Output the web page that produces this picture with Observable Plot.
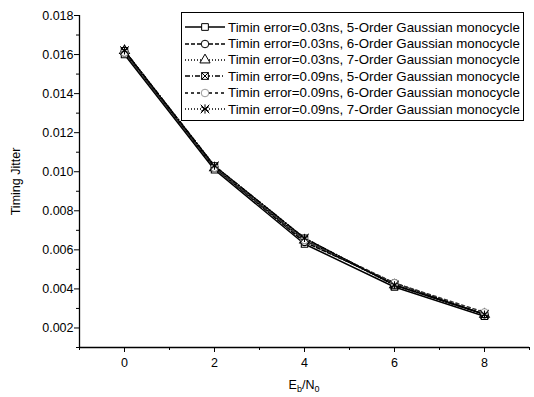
<!DOCTYPE html>
<html>
<head>
<meta charset="utf-8">
<script src="https://cdn.jsdelivr.net/npm/d3@7"></script>
<script src="https://cdn.jsdelivr.net/npm/@observablehq/plot@0.6"></script>
<style>
  html, body { margin: 0; padding: 0; background: #fff; }
  #wrap { position: relative; width: 534px; height: 397px; font-family: "Liberation Sans", Arial, sans-serif; }
  #legend { position: absolute; left: 181px; top: 12px; width: 343px; height: 109px; border: 1px solid #000; background: #fff; box-sizing: border-box; padding-top: 6px; }
  .row { height: 16.4px; display: flex; align-items: center; font-size: 13.3px; color: #000; white-space: nowrap; }
  .row svg { width: 42px; height: 16px; margin-left: 2px; margin-right: 2px; flex: none; }
</style>
</head>
<body>
<div id="wrap"></div>
<script>
// ---- data ----
const ebn0 = [0, 2, 4, 6, 8];
const seriesNames = [
  "Timin error=0.03ns, 5-Order Gaussian monocycle",
  "Timin error=0.03ns, 6-Order Gaussian monocycle",
  "Timin error=0.03ns, 7-Order Gaussian monocycle",
  "Timin error=0.09ns, 5-Order Gaussian monocycle",
  "Timin error=0.09ns, 6-Order Gaussian monocycle",
  "Timin error=0.09ns, 7-Order Gaussian monocycle"
];
const s1 = [0.0160, 0.0101, 0.0063, 0.0041, 0.0026];
const s2 = [0.0161, 0.0102, 0.0064, 0.0043, 0.0027];
const s3 = [0.0162, 0.0102, 0.0065, 0.0042, 0.0027];
const s4 = [0.0162, 0.0103, 0.0066, 0.0042, 0.0027];
const s5 = [0.0161, 0.0102, 0.0065, 0.0043, 0.0028];
const s6 = [0.0162, 0.0103, 0.0066, 0.0042, 0.0027];
const yMajor = [0.002, 0.004, 0.006, 0.008, 0.010, 0.012, 0.014, 0.016, 0.018];
const yMinor = [0.001, 0.003, 0.005, 0.007, 0.009, 0.011, 0.013, 0.015, 0.017];
const xMajor = [0, 2, 4, 6, 8];
const xMinor = [-1, 1, 3, 5, 7, 9];

// ---- styles per series ----
const values = [s1, s2, s3, s4, s5, s6];
const dashes = [null, "4,2", "1,2", "5,2,1,2", "3,3", "1,2"];
const symbols = ["square", "circle", "triangle", "square", "circle", "asterisk"];
const strokes = ["#000", "#000", "#000", "#000", "#999", "#000"];

const rows = seriesNames.flatMap((name, i) => ebn0.map((x, j) => ({series: name, idx: i, x, y: values[i][j]})));

const marks = [];
seriesNames.forEach((name, i) => {
  const d = rows.filter(r => r.idx === i);
  marks.push(Plot.line(d, {x: "x", y: "y", stroke: i === 4 ? "#333" : "#000", strokeWidth: 1.5, strokeDasharray: dashes[i]}));
});
seriesNames.forEach((name, i) => {
  const d = rows.filter(r => r.idx === i);
  marks.push(Plot.dot(d, {x: "x", y: "y", symbol: () => symbols[i], r: 3.6, stroke: strokes[i], fill: i === 5 ? "none" : "white", strokeWidth: 1.1}));
  if (i === 3) marks.push(Plot.dot(d, {x: "x", y: "y", symbol: () => "times", r: 3.2, stroke: "#000", strokeWidth: 1}));
  if (i === 5) marks.push(Plot.dot(d, {x: "x", y: "y", symbol: () => "times", r: 4, stroke: "#000", strokeWidth: 1}));
});

const chart = Plot.plot({
  width: 534,
  height: 397,
  marginLeft: 79,
  marginRight: 5,
  marginTop: 15,
  marginBottom: 50,
  style: {fontFamily: "'Liberation Sans', Arial, sans-serif", fontSize: "12.5px", color: "#000", background: "#fff"},
  x: {domain: [-1, 9]},
  y: {domain: [0.001, 0.018]},
  marks: [
    Plot.axisY({ticks: yMajor, tickFormat: d3.format(".3f"), tickSize: 5, tickPadding: 1, fontSize: 12.5,
      label: "Timing Jitter", labelAnchor: "center", labelArrow: "none", labelOffset: 68}),
    Plot.axisY({ticks: yMinor, tickSize: 3, tickFormat: () => "", label: null}),
    Plot.axisX({ticks: xMajor, tickFormat: d3.format("d"), tickSize: 5, tickPadding: 6, fontSize: 12.5, label: null}),
    Plot.axisX({ticks: xMinor, tickSize: 3, tickFormat: () => "", label: null}),
    Plot.ruleX([-1], {stroke: "#000", strokeWidth: 1.3}),
    Plot.ruleY([0.001], {stroke: "#000", strokeWidth: 1.3}),
    ...marks
  ]
});

const wrap = document.getElementById("wrap");
wrap.appendChild(chart);

// x-axis label with subscripts, positioned via the x scale
const xs = chart.scale("x");
const svg = d3.select(chart);
const lab = svg.append("text")
  .attr("x", xs.apply(4))
  .attr("y", 389)
  .attr("text-anchor", "middle")
  .attr("font-size", 12.5)
  .attr("fill", "#000");
lab.append("tspan").text("E");
lab.append("tspan").attr("font-size", 9).attr("dy", 3).text("b");
lab.append("tspan").attr("dy", -3).text("/N");
lab.append("tspan").attr("font-size", 9).attr("dy", 3).text("0");

// legend
const legend = document.createElement("div");
legend.id = "legend";
seriesNames.forEach((name, i) => {
  const row = document.createElement("div");
  row.className = "row";
  const s = d3.create("svg").attr("viewBox", "0 0 42 16");
  s.append("line").attr("x1", 1).attr("x2", 41).attr("y1", 8).attr("y2", 8)
    .attr("stroke", "#000").attr("stroke-width", 1.3).attr("stroke-dasharray", dashes[i]);
  const sym = d3.symbol().type({
    square: d3.symbolSquare, circle: d3.symbolCircle, triangle: d3.symbolTriangle, asterisk: d3.symbolAsterisk
  }[symbols[i]]).size(symbols[i] === "asterisk" ? 60 : 45);
  s.append("path").attr("d", sym()).attr("transform", "translate(21,8)")
    .attr("fill", i === 5 ? "none" : "white").attr("stroke", strokes[i]);
  if (i === 3 || i === 5) s.append("path").attr("d", d3.symbol().type(d3.symbolTimes).size(i === 5 ? 50 : 35)()).attr("transform", "translate(21,8)").attr("fill", "none").attr("stroke", "#000");
  row.appendChild(s.node());
  const t = document.createElement("span");
  t.textContent = name;
  row.appendChild(t);
  legend.appendChild(row);
});
wrap.appendChild(legend);
</script>
</body>
</html>
